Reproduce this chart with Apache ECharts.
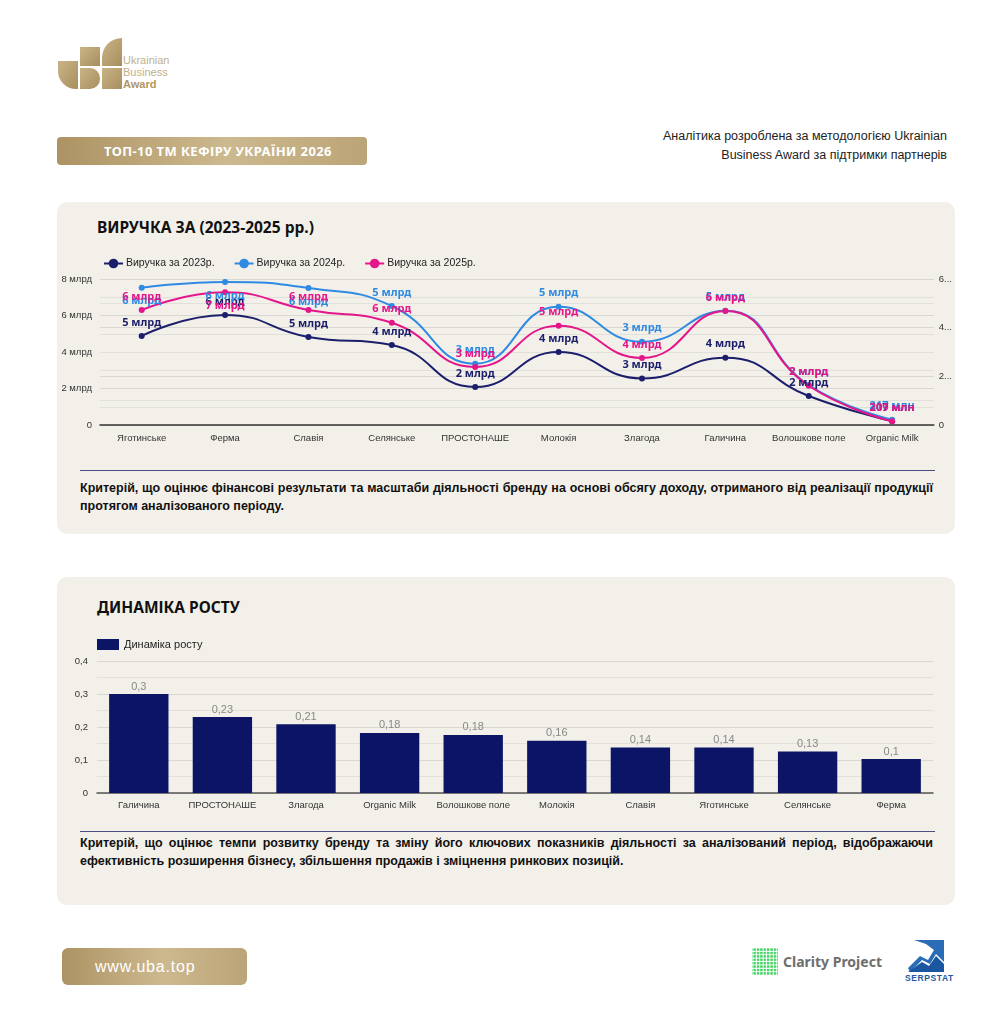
<!DOCTYPE html>
<html>
  <head>
    <meta charset="utf-8" />
    <title>ТОП-10 ТМ кефіру України 2026</title>
    <script src="https://cdn.jsdelivr.net/npm/echarts@6/dist/echarts.min.js"></script>
    <style>
      * {
        padding: 0;
        margin: 0;
        box-sizing: border-box;
      }
      body {
        width: 1004px;
        height: 1024px;
        background: #fff;
        position: relative;
        font-family: "Liberation Sans", "Noto Sans", sans-serif;
        overflow: hidden;
      }
      .abs {
        position: absolute;
      }
      .gold {
        background: linear-gradient(90deg, #ad9363 0%, #cdb98f 55%, #bba477 100%);
        color: #fff;
      }
      .panel {
        position: absolute;
        left: 57px;
        width: 898px;
        background: #f3f0ea;
        border-radius: 10px;
      }
      .ptitle {
        position: absolute;
        left: 97px;
        font-family: "Noto Sans", sans-serif;
        font-weight: bold;
        font-size: 15.5px;
        color: #111;
      }
      .divider {
        position: absolute;
        left: 80px;
        width: 855px;
        height: 1px;
        background: #4b4f86;
      }
      .note {
        position: absolute;
        left: 80px;
        width: 853px;
        font-weight: bold;
        font-size: 12.5px;
        line-height: 18px;
        color: #111;
        text-align: justify;
      }
      .chart {
        position: absolute;
        left: 57px;
        width: 898px;
      }
    </style>
  </head>
  <body>
    <!-- логотип -->
    <svg class="abs" style="left: 56px; top: 36px" width="125" height="56">
      <defs>
        <linearGradient id="lg" x1="0" y1="0" x2="1" y2="1">
          <stop offset="0" stop-color="#c9b486" />
          <stop offset="1" stop-color="#a88e5e" />
        </linearGradient>
      </defs>
      <path d="M2 25 H22 V53 H20 A18 18 0 0 1 2 35 Z" fill="url(#lg)" />
      <rect x="24" y="11" width="20" height="19" fill="url(#lg)" />
      <path d="M24 32 H34 A10 10 0 0 1 44 42 V43 A10 10 0 0 1 34 53 H24 Z" fill="url(#lg)" />
      <path d="M66 2 V30 H46 V22 A20 20 0 0 1 66 2 Z" fill="url(#lg)" />
      <rect x="46" y="32" width="20" height="21" fill="url(#lg)" />
      <text x="67" y="28" font-size="11" fill="#c2b08a" font-family="Liberation Sans">Ukrainian</text>
      <text x="67" y="40" font-size="11" fill="#c2b08a" font-family="Liberation Sans">Business</text>
      <text x="67" y="52" font-size="11" fill="#b09663" font-weight="bold" font-family="Liberation Sans">Award</text>
    </svg>

    <div class="abs gold" style="left: 57px; top: 137px; width: 310px; height: 28px; border-radius: 4px; text-align: center; padding-left: 12px; line-height: 28px; font-family: 'Noto Sans', sans-serif; font-weight: bold; font-size: 13px; letter-spacing: 0.4px">
      ТОП-10 ТМ КЕФІРУ УКРАЇНИ 2026
    </div>

    <div class="abs" style="right: 57px; top: 127px; text-align: right; font-size: 12.5px; line-height: 19px; color: #222">
      Аналітика розроблена за методологією Ukrainian<br />Business Award за підтримки партнерів
    </div>

    <div class="panel" style="top: 202px; height: 332px"></div>
    <div class="ptitle" style="top: 216px">ВИРУЧКА ЗА (2023-2025 рр.)</div>
    <div class="chart" id="revenue" style="top: 245px; height: 210px"></div>
    <div class="divider" style="top: 470px"></div>
    <div class="note" style="top: 479px">
      Критерій, що оцінює фінансові результати та масштаби діяльності бренду на основі обсягу доходу, отриманого від реалізації продукції протягом аналізованого періоду.
    </div>

    <div class="panel" style="top: 577px; height: 328px"></div>
    <div class="ptitle" style="top: 596px">ДИНАМІКА РОСТУ</div>
    <div class="chart" id="growth" style="top: 630px; height: 195px"></div>
    <div class="divider" style="top: 831px"></div>
    <div class="note" style="top: 834px">
      Критерій, що оцінює темпи розвитку бренду та зміну його ключових показників діяльності за аналізований період, відображаючи ефективність розширення бізнесу, збільшення продажів і зміцнення ринкових позицій.
    </div>

    <div class="abs gold" style="left: 62px; top: 948px; width: 185px; height: 37px; border-radius: 6px; line-height: 37px; padding-left: 33px; font-size: 16px; letter-spacing: 0.8px">
      www.uba.top
    </div>

    <!-- партнери -->
    <svg class="abs" style="left: 750px; top: 945px" width="140" height="34">
      <defs>
        <pattern id="dots" width="3.4" height="3.4" patternUnits="userSpaceOnUse">
          <rect width="2.4" height="2.4" fill="#3fd15f" />
        </pattern>
      </defs>
      <rect x="2" y="3" width="26" height="27" fill="url(#dots)" />
      <text x="33" y="22" font-size="14" font-weight="bold" fill="#6e6e6e" font-family="Noto Sans">Clarity Project</text>
    </svg>
    <svg class="abs" style="left: 902px; top: 938px" width="52" height="46">
      <polygon points="12,2 42,2 42,24 34,16 28,26 20,22 8,34 6,30 18,18 26,22 32,12 24,6" fill="#2a6cb5" />
      <polygon points="6,34 20,24 27,28 34,18 42,26 42,34" fill="#1b57a0" />
      <text x="3" y="43" font-size="8.5" font-weight="bold" fill="#1f5a9c" font-family="Liberation Sans" letter-spacing="0.6">SERPSTAT</text>
    </svg>

    <script type="text/javascript">
      // ---- дані ----
      const brands = ["Яготинське", "Ферма", "Славія", "Селянське", "ПРОСТОНАШЕ", "Молокія", "Злагода", "Галичина", "Волошкове поле", "Organic Milk"];
      // млрд грн
      const rev2023 = [4.88, 6.03, 4.82, 4.38, 2.08, 4.0, 2.55, 3.69, 1.59, 0.207];
      const rev2024 = [5.64, 5.88, 5.63, 4.89, 2.52, 4.86, 3.42, 4.7, 1.64, 0.217];
      const rev2025 = [6.3, 7.27, 6.3, 5.6, 3.18, 5.44, 3.67, 6.25, 2.15, 0.209];
      const below2024 = [0, 1, 2];
      const below2025 = [1];

      const growthBrands = ["Галичина", "ПРОСТОНАШЕ", "Злагода", "Organic Milk", "Волошкове поле", "Молокія", "Славія", "Яготинське", "Селянське", "Ферма"];
      const growth = [0.3, 0.23, 0.208, 0.182, 0.176, 0.158, 0.138, 0.138, 0.126, 0.103];

      const NAVY = "#1b1f6b";
      const BLUE = "#2f8ae2";
      const PINK = "#e5168a";

      function money(v) {
        return v >= 1 ? Math.round(v) + " млрд" : Math.round(v * 1000) + " млн";
      }
      function axisMoney(v) {
        return v === 0 ? "0" : v + " млрд";
      }
      function withBelow(arr, idx) {
        return arr.map(function (v, i) {
          return idx.indexOf(i) >= 0 ? { value: v, label: { position: "bottom" } } : v;
        });
      }
      function lineSeries(name, data, color, axis) {
        return {
          name: name,
          type: "line",
          smooth: true,
          yAxisIndex: axis,
          data: data,
          symbol: "circle",
          symbolSize: 6,
          lineStyle: { width: 2, color: color },
          itemStyle: { color: color },
          label: {
            show: true,
            position: "top",
            color: color,
            fontWeight: "bold",
            fontSize: 11,
            fontFamily: "Noto Sans",
            formatter: function (p) {
              return money(p.value);
            },
          },
        };
      }

      const gridLine = { lineStyle: { color: "#d9d7d2" } };
      const minorLine = { lineStyle: { color: "#e2e0db" } };

      var revChart = echarts.init(document.getElementById("revenue"));
      revChart.setOption({
        animation: false,
        textStyle: { fontFamily: "Liberation Sans" },
        legend: {
          left: 46,
          top: 13,
          padding: 0,
          itemWidth: 19,
          itemHeight: 12,
          itemGap: 19,
          itemStyle: {},
          textStyle: { fontSize: 10.5, color: "#222", padding: [0, 0, 0, -2] },
        },
        grid: { left: 43, right: 20, top: 34, bottom: 30 },
        xAxis: {
          type: "category",
          data: brands,
          axisTick: { show: false },
          axisLine: { lineStyle: { color: "#333", width: 1.5 } },
          axisLabel: { fontSize: 9.5, color: "#333", interval: 0, margin: 8 },
        },
        yAxis: [
          {
            type: "value",
            min: 0,
            max: 8,
            interval: 2,
            axisLabel: { fontSize: 9.5, color: "#333", formatter: axisMoney, margin: 8 },
            splitLine: gridLine,
            minorTick: { show: false, splitNumber: 2 },
            minorSplitLine: Object.assign({ show: true }, minorLine),
          },
          {
            type: "value",
            min: 0,
            max: 6,
            interval: 2,
            axisLabel: {
              fontSize: 9.5,
              color: "#333",
              margin: 5,
              width: 16,
              overflow: "truncate",
              ellipsis: "...",
              formatter: axisMoney,
            },
            splitLine: gridLine,
            minorTick: { show: false, splitNumber: 2 },
            minorSplitLine: Object.assign({ show: true }, minorLine),
          },
        ],
        series: [
          lineSeries("Виручка за 2023р.", rev2023, NAVY, 0),
          lineSeries("Виручка за 2024р.", withBelow(rev2024, below2024), BLUE, 1),
          lineSeries("Виручка за 2025р.", withBelow(rev2025, below2025), PINK, 0),
        ],
      });

      var growthChart = echarts.init(document.getElementById("growth"));
      growthChart.setOption({
        animation: false,
        textStyle: { fontFamily: "Liberation Sans" },
        legend: {
          left: 40,
          top: 9,
          padding: 0,
          itemWidth: 22,
          itemHeight: 11,
          icon: "rect",
          textStyle: { fontSize: 11, color: "#222" },
        },
        grid: { left: 40, right: 22, top: 31, bottom: 32 },
        xAxis: {
          type: "category",
          data: growthBrands,
          axisTick: { show: false },
          axisLine: { lineStyle: { color: "#555", width: 1.5 } },
          axisLabel: { fontSize: 9.5, color: "#333", interval: 0, margin: 7 },
        },
        yAxis: {
          type: "value",
          min: 0,
          max: 0.4,
          interval: 0.1,
          axisLabel: {
            fontSize: 9.5,
            color: "#333",
            margin: 9,
            formatter: function (v) {
              return String(Math.round(v * 10) / 10).replace(".", ",");
            },
          },
          splitLine: gridLine,
          minorTick: { show: false, splitNumber: 2 },
          minorSplitLine: Object.assign({ show: true }, minorLine),
        },
        series: [
          {
            name: "Динаміка росту",
            type: "bar",
            data: growth,
            barWidth: "71%",
            itemStyle: { color: "#0c1466" },
            label: {
              show: true,
              position: "top",
              distance: 2,
              color: "#888",
              fontSize: 11,
              formatter: function (p) {
                return String(Math.round(p.value * 100) / 100).replace(".", ",");
              },
            },
          },
        ],
      });
    </script>
  </body>
</html>
